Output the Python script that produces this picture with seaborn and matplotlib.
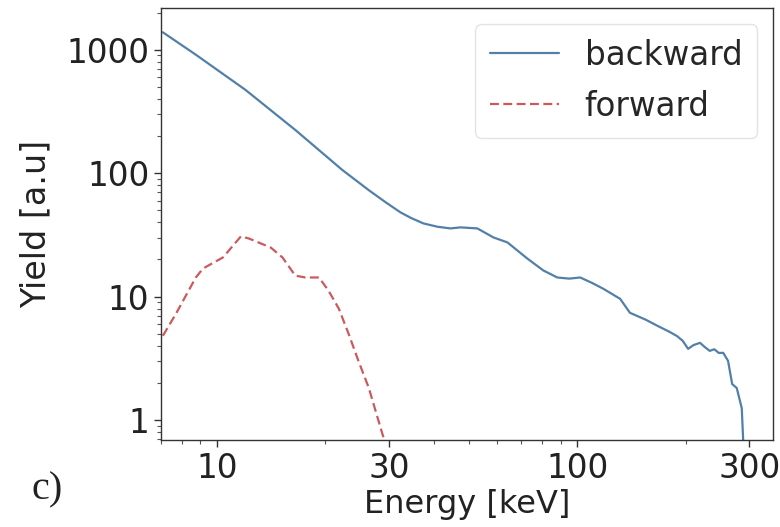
import numpy as np
import pandas as pd
import matplotlib
matplotlib.use("Agg")
import matplotlib.pyplot as plt
import seaborn as sns
from matplotlib.ticker import FixedLocator, FixedFormatter, LogLocator, NullFormatter

# ---- data ----
backward_energy = [7.08, 8.74, 12.0, 16.5, 22.3, 26.4, 29.4, 32.3, 34.5, 37.4, 41.0, 44.5,
                   47.4, 52.8, 58.5, 64.0, 72.6, 80.5, 88.0, 95.0, 101.9, 110.0, 118.0,
                   131.5, 140.0, 155.0, 167.0, 180.0, 189.0, 196.0, 203.0, 210.0, 219.0,
                   226.0, 233.0, 240.0, 247.0, 254.0, 262.0, 269.0, 277.0, 286.0, 290.0]
backward_yield = [1383, 911, 473, 224, 106, 72.8, 58.1, 48.2, 43.5, 39.2, 36.8, 35.7,
                  36.4, 35.7, 30.2, 27.5, 20.4, 16.3, 14.3, 14.0, 14.3, 12.9, 11.6,
                  9.6, 7.4, 6.5, 5.8, 5.2, 4.8, 4.4, 3.78, 4.05, 4.23, 3.9, 3.64,
                  3.75, 3.5, 3.51, 3.02, 1.96, 1.82, 1.25, 0.5]
forward_energy = [7.08, 7.70, 8.74, 9.15, 10.4, 11.66, 12.26, 14.1, 15.2, 16.5, 17.6,
                  19.2, 20.4, 21.8, 23.2, 24.7, 26.4, 28.8, 29.6]
forward_yield = [4.82, 7.28, 14.3, 16.9, 20.8, 30.8, 29.6, 25.0, 20.8, 14.8, 14.3,
                 14.3, 11.2, 7.98, 5.0, 3.02, 1.82, 0.77, 0.6]
series_names = ["backward", "forward"]
x_tick_values = [10, 30, 100, 300]
x_tick_labels = ["10", "30", "100", "300"]
y_tick_values = [1, 10, 100, 1000]
y_tick_labels = ["1", "10", "100", "1000"]

df = pd.concat([
    pd.DataFrame({"Energy": backward_energy, "Yield": backward_yield, "dir": series_names[0]}),
    pd.DataFrame({"Energy": forward_energy, "Yield": forward_yield, "dir": series_names[1]}),
], ignore_index=True)

sns.set_style("ticks")
plt.rcParams["font.family"] = ["DejaVu Sans"]

fig = plt.figure(figsize=(7.8, 5.27), dpi=100)
ax = fig.add_axes([0.2065, 0.165, 0.785, 0.820])

palette = {"backward": "#5280a8", "forward": "#cc5a5c"}
dashes = {"backward": "", "forward": (4, 2)}
sns.lineplot(data=df, x="Energy", y="Yield", hue="dir", style="dir",
             palette=palette, dashes=dashes, linewidth=1.6, sort=False,
             estimator=None, ax=ax)

ax.set_xscale("log")
ax.set_yscale("log")
ax.set_xlim(7.0, 350)
ax.set_ylim(0.69, 2180)

ax.xaxis.set_major_locator(FixedLocator(x_tick_values))
ax.xaxis.set_major_formatter(FixedFormatter(x_tick_labels))
ax.xaxis.set_minor_locator(LogLocator(base=10, subs=np.arange(2, 10)))
ax.xaxis.set_minor_formatter(NullFormatter())
ax.yaxis.set_major_locator(FixedLocator(y_tick_values))
ax.yaxis.set_major_formatter(FixedFormatter(y_tick_labels))
ax.yaxis.set_minor_locator(LogLocator(base=10, subs=np.arange(2, 10)))
ax.yaxis.set_minor_formatter(NullFormatter())

ax.tick_params(axis="both", which="major", labelsize=23.5, length=5, width=1.0,
               color="#333333", labelcolor="#222222")
ax.tick_params(axis="both", which="minor", length=3, width=0.8, color="#555555")
for s in ax.spines.values():
    s.set_visible(True)
    s.set_color("#333333")
    s.set_linewidth(1.0)

ax.set_xlabel("Energy [keV]", fontsize=23, color="#222222", labelpad=3)
ax.set_ylabel("Yield [a.u]", fontsize=24, color="#222222", labelpad=10)

leg = ax.legend(loc="upper right", fontsize=23.5, frameon=True, fancybox=True,
                handlelength=2.1, borderpad=0.45, labelspacing=0.55, handletextpad=0.8,
                bbox_to_anchor=(1.0, 1.0), borderaxespad=0.5)
leg.get_frame().set_edgecolor("#dddddd")
leg.get_frame().set_linewidth(1.0)

fig.text(0.040, 0.053, "c)", fontsize=29, family=["Liberation Serif", "DejaVu Serif"], color="#222222")

fig.savefig("out.png", dpi=100)
